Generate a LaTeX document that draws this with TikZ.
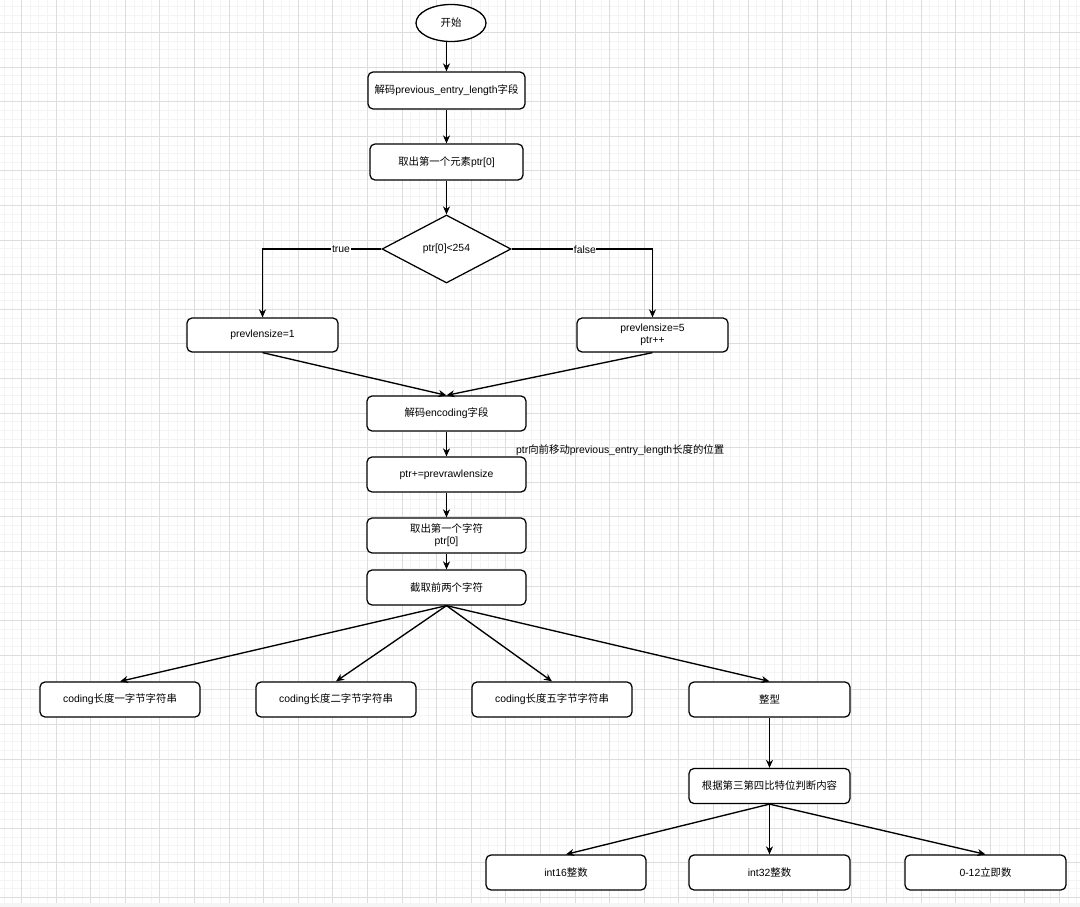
\documentclass[tikz,border=0pt]{standalone}
\usepackage{fontspec}
\setmainfont{Liberation Sans}
\newfontfamily\cjkfont{Noto Sans CJK SC}
\newcommand\zhs[1]{{\cjkfont #1}}
\usetikzlibrary{shapes.geometric,arrows.meta}
\begin{document}
\begin{tikzpicture}[x=1pt,y=-1pt,
  every node/.style={font=\fontsize{10.4}{12.2}\selectfont, align=center},
  stepbox/.style={draw=black, line width=1.25pt, rounded corners=5pt, fill=white, minimum height=35pt, inner sep=2pt},
  arr/.style={draw=black, line width=1.35pt, -{Stealth[length=8pt,width=7pt,inset=2.5pt]}},
  lbl/.style={fill=white, inner sep=0.6pt},
  minorgrid/.style={draw=gray!9, line width=0.9pt},
  majorgrid/.style={draw=gray!27, line width=0.9pt}]
\useasboundingbox (0,0) rectangle (1080,907);
\fill[white] (0,0) rectangle (1080,907);
% grid
\foreach \i in {0,...,125} {
  \pgfmathsetmacro\gx{4.2+\i*8.65}
  \draw[minorgrid] (\gx,0) -- (\gx,903);
}
\foreach \i in {0,...,104} {
  \pgfmathsetmacro\gy{6.55+\i*8.65}
  \draw[minorgrid] (0,\gy) -- (1080,\gy);
}
\foreach \i in {0,...,31} {
  \pgfmathsetmacro\gx{21.5+\i*34.6}
  \draw[majorgrid] (\gx,0) -- (\gx,903);
}
\foreach \i in {0,...,26} {
  \pgfmathsetmacro\gy{32.5+\i*34.6}
  \draw[majorgrid] (0,\gy) -- (1080,\gy);
}
\fill[gray!8] (0,903) rectangle (1080,907);

% nodes
\node[draw=black, line width=1.3pt, ellipse, fill=white, minimum width=70pt, minimum height=37pt, inner sep=0pt] (start) at (451,23) {\zhs{开始}};
\node[stepbox, minimum width=157pt, minimum height=37pt] (b1) at (446.5,90.5) {\zhs{解码}previous\_entry\_length\zhs{字段}};
\node[stepbox, minimum width=153pt, minimum height=36pt] (b2) at (446.5,162) {\zhs{取出第一个元素}ptr[0]};
\node[draw=black, line width=1.25pt, diamond, fill=white, minimum width=129pt, minimum height=68pt, inner sep=0pt] (dia) at (446.5,249) {ptr[0]<254};
\node[stepbox, minimum width=151pt, minimum height=34pt] (p1) at (262.5,335) {prevlensize=1};
\node[stepbox, minimum width=151pt, minimum height=34pt] (p5) at (652.5,335) {prevlensize=5\\ptr++};
\node[stepbox, minimum width=159pt] (enc) at (446.5,413.5) {\zhs{解码}encoding\zhs{字段}};
\node[stepbox, minimum width=159pt] (ptr) at (446.5,474.5) {ptr+=prevrawlensize};
\node[stepbox, minimum width=159pt] (ch) at (446.5,535.5) {\zhs{取出第一个字符}\\ptr[0]};
\node[stepbox, minimum width=159pt] (cut) at (446.5,587.5) {\zhs{截取前两个字符}};
\node[anchor=west, inner sep=0pt] (note) at (516,450) {ptr\zhs{向前移动}previous\_entry\_length\zhs{长度的位置}};

\node[stepbox, minimum width=160pt] (c1) at (120,699.5) {coding\zhs{长度一字节字符串}};
\node[stepbox, minimum width=160pt] (c2) at (336,699.5) {coding\zhs{长度二字节字符串}};
\node[stepbox, minimum width=160pt] (c5) at (552,699.5) {coding\zhs{长度五字节字符串}};
\node[stepbox, minimum width=161pt] (int) at (769.5,699.5) {\zhs{整型}};
\node[stepbox, minimum width=161pt] (judge) at (769.5,786) {\zhs{根据第三第四比特位判断内容}};
\node[stepbox, minimum width=160pt] (i16) at (566,872.5) {int16\zhs{整数}};
\node[stepbox, minimum width=161pt] (i32) at (769.5,872.5) {int32\zhs{整数}};
\node[stepbox, minimum width=161pt] (imm) at (985.5,872.5) {0-12\zhs{立即数}};

% connectors
\draw[arr] (start.south -| b1.north) -- (b1.north);
\draw[arr] (b1) -- (b2);
\draw[arr] (b2) -- (dia);
\draw[arr] (dia.west) -| node[lbl, pos=0.17] {true} (p1.north);
\draw[arr] (dia.east) -| node[lbl, pos=0.26, yshift=-1pt] {false} (p5.north);
\draw[arr] (p1.south) -- (enc.north);
\draw[arr] (p5.south) -- (enc.north);
\draw[arr] (enc) -- (ptr);
\draw[arr] (ptr) -- (ch);
\draw[arr] (ch) -- (cut);
\draw[arr] (cut.south) -- (c1.north);
\draw[arr] (cut.south) -- (c2.north);
\draw[arr] (cut.south) -- (c5.north);
\draw[arr] (cut.south) -- (int.north);
\draw[arr] (int) -- (judge);
\draw[arr] (judge.south) -- (i16.north);
\draw[arr] (judge.south) -- (i32.north);
\draw[arr] (judge.south) -- (imm.north);
\end{tikzpicture}
\end{document}
